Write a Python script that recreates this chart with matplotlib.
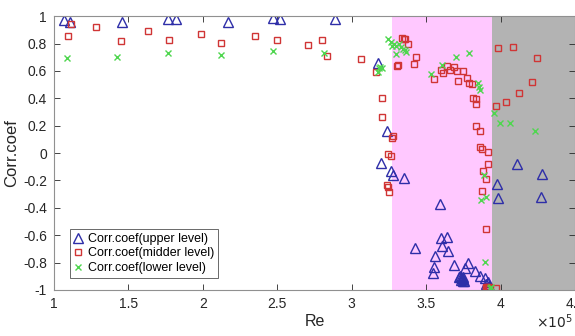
import numpy as np
import matplotlib.pyplot as plt

plt.rcParams['font.family'] = ['Liberation Sans', 'DejaVu Sans']
plt.rcParams['axes.unicode_minus'] = False

# Re values are in units of 1e5
re_upper = [1.07, 1.11, 1.456, 1.763, 1.817, 2.166, 2.468, 2.517, 2.886,
            3.177, 3.237, 3.199, 3.266, 3.277, 3.349,
            3.591, 3.427, 3.597, 3.640, 3.609, 3.647, 3.557, 3.550, 3.546,
            3.685, 3.758, 3.783, 3.826, 3.720, 3.736, 3.747, 3.730, 3.740,
            3.745, 3.750, 3.735, 3.755, 3.864, 3.893, 3.915, 3.900, 3.920,
            4.112, 4.277, 3.975, 3.984, 4.270]
corr_upper = [0.97, 0.96, 0.96, 0.976, 0.976, 0.956, 0.983, 0.976, 0.976,
              0.66, 0.163, -0.071, -0.129, -0.16, -0.18,
              -0.372, -0.696, -0.623, -0.611, -0.679, -0.715, -0.752, -0.830, -0.878,
              -0.82, -0.842, -0.80, -0.861, -0.908, -0.903, -0.934, -0.900, -0.910,
              -0.920, -0.905, -0.925, -0.935, -0.898, -0.915, -0.94, -0.96, -0.97,
              -0.08, -0.153, -0.226, -0.331, -0.319]

re_mid = [1.092, 1.114, 1.28, 1.448, 1.633, 1.772, 1.985, 2.119, 2.349, 2.497,
          2.703, 2.803, 2.834, 3.065, 3.161,
          3.203, 3.206, 3.273, 3.278, 3.244, 3.266, 3.240, 3.246, 3.252,
          3.340, 3.350, 3.356, 3.378, 3.302, 3.308, 3.434, 3.418,
          3.550, 3.602, 3.613, 3.640, 3.662, 3.685, 3.707, 3.747, 3.713,
          3.776, 3.785, 3.810, 3.814, 3.837, 3.837, 3.837, 3.859, 3.864,
          3.877, 3.915, 3.917, 3.881, 3.904, 3.875, 3.904,
          3.900, 3.905, 3.910, 3.915, 3.920, 3.925, 3.971,
          3.982, 4.083, 4.246, 4.213, 4.121, 4.034, 3.966]
corr_mid = [0.856, 0.939, 0.922, 0.818, 0.89, 0.825, 0.868, 0.805, 0.856, 0.825,
            0.788, 0.825, 0.708, 0.684, 0.589,
            0.399, 0.265, 0.112, 0.122, -0.01, -0.02, -0.234, -0.25, -0.282,
            0.842, 0.836, 0.83, 0.793, 0.637, 0.640, 0.703, 0.65,
            0.54, 0.606, 0.582, 0.635, 0.606, 0.625, 0.598, 0.598, 0.528,
            0.545, 0.513, 0.504, 0.399, 0.392, 0.358, 0.197, 0.161, 0.046,
            0.027, 0.01, -0.083, -0.134, -0.191, -0.277, -0.557,
            -0.975, -0.985, -0.98, -0.99, -0.985, -0.975, -0.988,
            0.764, 0.776, 0.691, 0.521, 0.44, 0.37, 0.343]

re_low = [1.085, 1.421, 1.767, 2.125, 2.468, 2.812,
          3.181, 3.200, 3.188, 3.177,
          3.244, 3.266, 3.282, 3.300, 3.317, 3.329, 3.344, 3.367, 3.295, 3.273,
          3.356, 3.535, 3.606, 3.703, 3.785, 3.848, 3.855, 3.864,
          3.886, 3.871, 3.904, 3.893, 3.930, 3.937,
          3.955, 3.993, 4.060, 4.233]
corr_low = [0.691, 0.703, 0.728, 0.715, 0.745, 0.732,
            0.618, 0.618, 0.63, 0.594,
            0.83, 0.813, 0.796, 0.781, 0.796, 0.771, 0.757, 0.74, 0.727, 0.781,
            0.752, 0.58, 0.642, 0.703, 0.732, 0.513, 0.484, 0.46,
            -0.16, -0.343, -0.319, -0.793, -0.985, -0.98,
            0.29, 0.217, 0.221, 0.161]

# shaded Re ranges
pink_range = [3.27, 3.945]
gray_range = [3.945, 4.5]

fig = plt.figure(figsize=(5.75, 3.36), dpi=100)
ax = fig.add_axes([0.094, 0.137, 0.906, 0.815])

ax.axvspan(pink_range[0], pink_range[1], color='#FFC8FF', lw=0, zorder=0)
ax.axvspan(gray_range[0], gray_range[1], color='#B3B3B3', lw=0, zorder=0)

ax.plot(re_upper, corr_upper, '^', mfc='none', mec='#2E2EA8', ms=6.5, mew=1.0,
        label='Corr.coef(upper level)')
ax.plot(re_mid, corr_mid, 's', mfc='none', mec='#D03535', ms=5, mew=1.0,
        label='Corr.coef(midder level)')
ax.plot(re_low, corr_low, 'x', color='#4FD64F', ms=4.5, mew=1.0,
        label='Corr.coef(lower level)')

ax.set_xlim(1, 4.5)
ax.set_ylim(-1, 1)
ax.set_xticks(np.arange(1, 4.51, 0.5))
ax.set_xticklabels(['1', '1.5', '2', '2.5', '3', '3.5', '4', '4.5'])
ax.set_yticks(np.arange(-1, 1.01, 0.2))
ax.set_yticklabels(['-1', '-0.8', '-0.6', '-0.4', '-0.2', '0',
                    '0.2', '0.4', '0.6', '0.8', '1'])

ax.tick_params(direction='in', top=True, right=True, length=4, width=0.6,
               color='#262626', labelsize=10, labelcolor='#262626', pad=5)
for s in ax.spines.values():
    s.set_color('#909090')
    s.set_linewidth(0.8)

ax.set_xlabel('Re', fontsize=11.5, color='#262626', labelpad=2)
ax.set_ylabel('Corr.coef', fontsize=12, color='#262626', labelpad=3)
fig.text(0.997, 0.015, r'$\times 10^5$', ha='right', va='bottom', fontsize=10,
         color='#262626')

leg = ax.legend(loc='lower left', bbox_to_anchor=(0.03, 0.045), fontsize=9,
                frameon=True, fancybox=False, edgecolor='#262626',
                handlelength=0.8, handletextpad=0.4, borderpad=0.3,
                labelspacing=0.2, borderaxespad=0)
leg.get_frame().set_linewidth(0.6)

plt.savefig('out.png', dpi=100)
